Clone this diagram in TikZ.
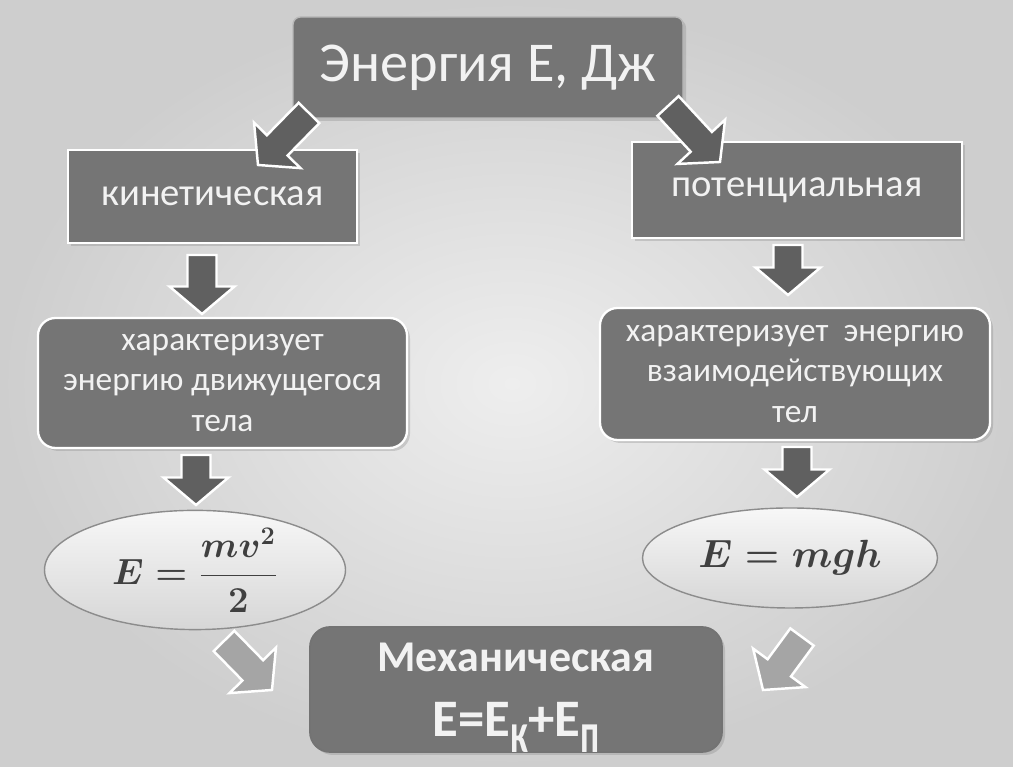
\documentclass[tikz,border=0pt]{standalone}
\usepackage{amsmath}
\usepackage{graphicx}
\usepackage[no-math]{fontspec}
\setmainfont{Carlito}
\usetikzlibrary{calc,shapes.geometric,shadows}

\definecolor{boxgray}{RGB}{117,117,117}
\definecolor{arrowgray}{RGB}{96,96,96}
\definecolor{lightarrow}{RGB}{165,165,165}
\definecolor{bglight}{RGB}{238,238,238}
\definecolor{bgdark}{RGB}{206,206,206}
\definecolor{boxtext}{RGB}{242,242,242}

% индекс у E
\newcommand{\sublet}[1]{\raisebox{-9pt}{\scalebox{0.85}[1.35]{\fontsize{24}{24}\selectfont #1}}}

\tikzset{
  box/.style={fill=boxgray, draw=white, line width=1.3pt, text=boxtext,
    font=\fontsize{22}{26}\selectfont,
    drop shadow={opacity=0.3, shadow xshift=0.06cm, shadow yshift=-0.06cm}},
  descbox/.style={box, rounded corners=0.35cm, align=center,
    font=\fontsize{19}{23}\selectfont},
  formula/.style={ellipse, top color=gray!6, bottom color=gray!32,
    draw=gray!90, line width=0.8pt, text=black!75, inner sep=0pt},
  barrow/.style={fill=#1, draw=white, line width=1.4pt, line join=miter,
    to path={
      ($(\tikztostart)!0.29cm!90:(\tikztotarget)$)
      -- ($(\tikztotarget)!0.55cm!(\tikztostart)!0.29cm!-90:(\tikztostart)$)
      -- ($(\tikztotarget)!0.55cm!(\tikztostart)!0.65cm!-90:(\tikztostart)$)
      -- (\tikztotarget)
      -- ($(\tikztotarget)!0.55cm!(\tikztostart)!0.65cm!90:(\tikztostart)$)
      -- ($(\tikztotarget)!0.55cm!(\tikztostart)!0.29cm!90:(\tikztostart)$)
      -- ($(\tikztostart)!0.29cm!-90:(\tikztotarget)$) -- cycle}},
  barrow/.default=arrowgray
}

\begin{document}
\begin{tikzpicture}
% фон
\shade[inner color=bglight, outer color=bgdark] (0,0) rectangle (20.48,15.34);
\fill[white] (20.26,0) rectangle (20.48,15.34);
\useasboundingbox (0,0) rectangle (20.48,15.34);

% блоки
\node[box, rounded corners=0.15cm, draw=gray!55, line width=0.8pt,
  minimum width=7.8cm, minimum height=2.02cm,
  font=\fontsize{32}{36}\selectfont] (energy) at (9.76,13.99) {Энергия Е, Дж};
\node[box, minimum width=5.78cm, minimum height=1.86cm] (kin) at (4.25,11.41) {кинетическая};
\node[box, minimum width=6.6cm, minimum height=1.92cm] (pot) at (15.94,11.54) {потенциальная};
\node[descbox, minimum width=7.38cm, minimum height=2.6cm] (kdesc) at (4.45,7.68)
  {характеризует\\энергию движущегося\\тела};
\node[descbox, minimum width=7.8cm, minimum height=2.64cm] (pdesc) at (15.9,7.86)
  {характеризует\ \ энергию\\взаимодействующих\\тел};
\node[formula, minimum width=6.02cm, minimum height=2.2cm,
  font=\huge\boldmath] (kform) at (3.9,3.94) {$E=\dfrac{mv^2}{2}$};
\node[formula, minimum width=5.9cm, minimum height=2.0cm,
  font=\Huge\boldmath] (pform) at (15.8,4.18) {\scalebox{0.9}{$E=mgh$}};
\node[descbox, rounded corners=0.4cm, draw=black!55, line width=1pt,
  minimum width=8.24cm, minimum height=2.5cm, text depth=0pt,
  font=\bfseries\fontsize{25}{37}\selectfont] (mech) at (10.32,1.55)
  {Механическая\\{\fontsize{30}{37}\selectfont E=E\sublet{к}+E\sublet{п}}};

% концы стрелок
\coordinate (a1s) at (6.18,13.08); \coordinate (a1t) at (5.16,12.04);
\coordinate (a2s) at (13.36,13.22); \coordinate (a2t) at (14.40,12.10);
\coordinate (a3s) at (4.04,10.24); \coordinate (a3t) at (4.04,9.06);
\coordinate (a4s) at (15.76,10.44); \coordinate (a4t) at (15.76,9.44);
\coordinate (a5s) at (3.92,6.24); \coordinate (a5t) at (3.92,5.24);
\coordinate (a6s) at (15.94,6.40); \coordinate (a6t) at (15.94,5.40);
\coordinate (a7s) at (4.48,2.52); \coordinate (a7t) at (5.44,1.54);
\coordinate (a8s) at (16.04,2.60); \coordinate (a8t) at (15.26,1.54);

% стрелки
\draw[barrow] (a1s) to (a1t);
\draw[barrow] (a2s) to (a2t);
\draw[barrow] (a3s) to (a3t);
\draw[barrow] (a4s) to (a4t);
\draw[barrow] (a5s) to (a5t);
\draw[barrow] (a6s) to (a6t);
\draw[barrow=lightarrow] (a7s) to (a7t);
\draw[barrow=lightarrow] (a8s) to (a8t);
\end{tikzpicture}
\end{document}
